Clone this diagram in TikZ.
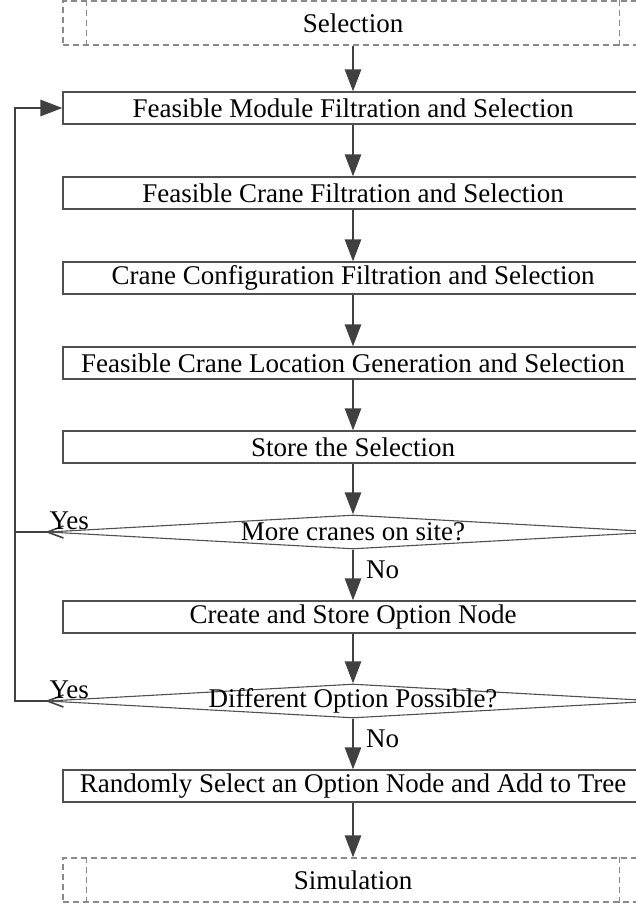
\documentclass[tikz,border=0pt]{standalone}
\usepackage{fontspec}
\setmainfont{Liberation Serif}
\usetikzlibrary{arrows.meta,shapes.geometric}
\definecolor{flowgray}{HTML}{404040}
\definecolor{framegray}{HTML}{505050}
\definecolor{dashgray}{HTML}{8A8A8A}
\begin{document}
\begin{tikzpicture}[x=1pt,y=-1pt,
  every node/.style={font=\fontsize{27}{30}\selectfont, text=black},
  procbox/.style={draw=framegray, line width=1.1pt, rectangle,
    minimum width=580pt, minimum height=32pt, inner sep=0pt},
  predef/.style={draw=dashgray, line width=1.1pt, dashed,
    dash pattern=on 6pt off 4pt, rectangle,
    minimum width=580pt, minimum height=44pt, inner sep=0pt},
  decision/.style={draw=framegray, line width=1.1pt, diamond,
    minimum width=610pt, minimum height=34pt, inner sep=0pt},
  flow/.style={draw=flowgray, line width=2.6pt,
    -{Triangle[length=22pt,width=16pt]}},
  plainflow/.style={draw=flowgray, line width=2.6pt},
  barb/.style={draw=flowgray, line width=1.6pt},
  tag/.style={inner sep=0pt}
]
\useasboundingbox (0,0) rectangle (636,905);

% process chain
\node[predef]  (sel) at (353,23)  {Selection};
\node[procbox] (m1)  at (353,108) {Feasible Module Filtration and Selection};
\node[procbox] (m2)  at (353,193) {Feasible Crane Filtration and Selection};
\node[procbox] (m3)  at (353,278) {Crane Configuration Filtration and Selection};
\node[procbox] (m4)  at (353,363) {Feasible Crane Location Generation and Selection};
\node[procbox] (m5)  at (353,447) {Store the Selection};
\node[decision] (d1) at (353,532) {};
\node at (d1) {More cranes on site?};
\node[procbox] (m6)  at (353,617) {Create and Store Option Node};
\node[decision] (d2) at (353,701) {};
\node at (d2) {Different Option Possible?};
\node[procbox] (m7)  at (353,786) {Randomly Select an Option Node and Add to Tree};
\node[predef]  (sim) at (353,880) {Simulation};

% inner bars of the predefined-process boxes
\foreach \n in {sel,sim}{
  \draw[draw=dashgray, line width=1.1pt, dash pattern=on 6pt off 4pt]
    ([xshift=24pt]\n.north west) -- ([xshift=24pt]\n.south west);
  \draw[draw=dashgray, line width=1.1pt, dash pattern=on 6pt off 4pt]
    ([xshift=-24pt]\n.north east) -- ([xshift=-24pt]\n.south east);
}

% main arrows
\draw[flow] (sel) -- (m1);
\draw[flow] (m1) -- (m2);
\draw[flow] (m2) -- (m3);
\draw[flow] (m3) -- (m4);
\draw[flow] (m4) -- (m5);
\draw[flow] (m5) -- (d1);
\draw[flow] (d1) -- (m6);
\draw[flow] (m6) -- (d2);
\draw[flow] (d2) -- (m7);
\draw[flow] (m7) -- (sim);

% feedback loops
\coordinate (loop) at (15,0);
\draw[flow] (d1.west) -- (d1.west -| loop) |- (m1.west);
\draw[plainflow] (d2.west) -- (d2.west -| loop) -- (d1.west -| loop);

% open barbs at the decision tips
\foreach \n in {d1,d2}{
  \draw[barb] ([xshift=16pt,yshift=-6pt]\n.west) -- (\n.west) -- ([xshift=16pt,yshift=6pt]\n.west);
}

% branch labels
\node[tag, anchor=south west] (y1) at ([xshift=2pt,yshift=2pt]d1.west) {Yes};
\node[tag, anchor=south west] (y2) at ([xshift=2pt,yshift=2pt]d2.west) {Yes};
\node[tag, anchor=west] (n1) at ([xshift=13pt,yshift=-38pt]d1.center) {No};
\node[tag, anchor=west] (n2) at ([xshift=13pt,yshift=-38pt]d2.center) {No};
\end{tikzpicture}
\end{document}
